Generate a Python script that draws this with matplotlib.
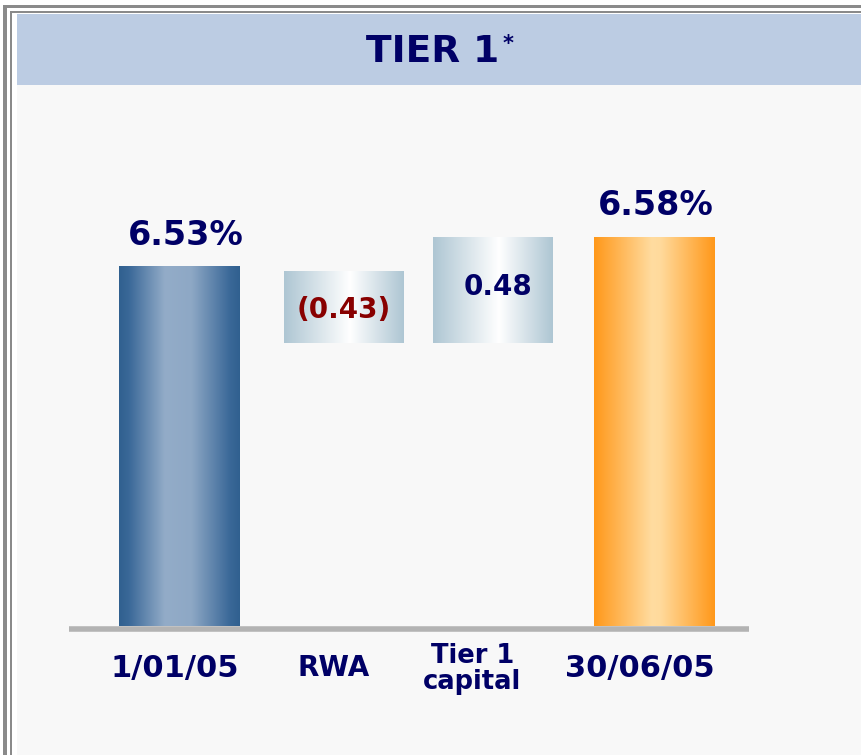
import numpy as np
import matplotlib
matplotlib.use('Agg')
import matplotlib.pyplot as plt
from matplotlib.patches import Rectangle
from matplotlib.colors import LinearSegmentedColormap

# chart values
categories = ['1/01/05', 'RWA', 'Tier 1\ncapital', '30/06/05']
value_labels = ['6.53%', '(0.43)', '0.48', '6.58%']
# bar levels as drawn in the picture (the original is not to scale)
bar_bottom = [0.0, 5.15, 5.15, 0.0]
bar_top = [6.53, 6.45, 7.07, 7.07]

W, H = 861, 755
fig = plt.figure(figsize=(W / 100, H / 100), dpi=100)
fig.patch.set_facecolor('white')

def px(x, y, w, h):
    # pixel box (top-left origin) -> figure fraction
    return [x / W, 1 - (y + h) / H, w / W, h / H]

def frect(x, y, w, h, color):
    b = px(x, y, w, h)
    fig.add_artist(Rectangle((b[0], b[1]), b[2], b[3], transform=fig.transFigure,
                             facecolor=color, edgecolor='none', zorder=0))

# frame: double grey line, panel, title band
frect(3, 5, W, 3, '#8a8a8a')
frect(3, 5, 4, H, '#8a8a8a')
frect(10, 11, W, 2, '#8a8a8a')
frect(10, 11, 2, H, '#8a8a8a')
frect(17, 14, W, H, '#f8f8f8')
frect(17, 14, W, 71, '#bccce3')

navy = '#000066'
fig.text(433 / W, 1 - 52 / H, 'TIER 1', ha='center', va='center',
         fontsize=27, fontweight='bold', color=navy)
fig.text(503 / W, 1 - 44 / H, '*', ha='left', va='center',
         fontsize=15, fontweight='bold', color=navy)

ax = fig.add_axes(px(69, 100, 680, 526))
ax.axis('off')

blue = LinearSegmentedColormap.from_list('b', [(0, '#30608f'), (0.08, '#3a6898'),
                                               (0.38, '#93acc8'), (0.6, '#8ea8c5'),
                                               (0.92, '#3a6898'), (1, '#30608f')])
grey = LinearSegmentedColormap.from_list('g', [(0, '#aec6d3'), (0.55, '#ffffff'),
                                               (1, '#aec6d3')])
orange = LinearSegmentedColormap.from_list('o', [(0, '#ff981a'), (0.48, '#ffdca0'),
                                                 (0.55, '#ffda9c'), (1, '#ff981a')])
cmaps = [blue, grey, grey, orange]
xpos = [0, 1.036, 1.98, 3.0]
widths = [0.764, 0.752, 0.755, 0.764]

grad = np.linspace(0, 1, 256).reshape(1, -1)
for i in range(len(categories)):
    x0 = xpos[i] - widths[i] / 2
    x1 = xpos[i] + widths[i] / 2
    ax.imshow(grad, extent=[x0, x1, bar_bottom[i], bar_top[i]], aspect='auto',
              cmap=cmaps[i], interpolation='bicubic', zorder=2)

ax.set_xlim(-0.698, 3.597)
ax.set_ylim(0, 9.56)

# baseline
ax.plot([-0.698, 3.597], [-0.05, -0.05], color='#b3b3b3', lw=4, solid_capstyle='butt',
        clip_on=False, zorder=3)

# value labels
ax.text(xpos[0] + 0.04, bar_top[0] + 0.27, value_labels[0], ha='center', va='bottom',
        fontsize=24, fontweight='bold', color=navy)
ax.text(xpos[3] + 0.01, bar_top[3] + 0.27, value_labels[3], ha='center', va='bottom',
        fontsize=24, fontweight='bold', color=navy)
ax.text(xpos[1], (bar_top[1] + bar_bottom[1]) / 2 - 0.05, value_labels[1], ha='center',
        va='center', fontsize=20, fontweight='bold', color='#880000')
ax.text(xpos[2] + 0.03, (bar_top[2] + bar_bottom[2]) / 2 + 0.05, value_labels[2],
        ha='center', va='center', fontsize=20, fontweight='bold', color=navy)

# category labels
offs = [-0.03, -0.065, -0.13, -0.09]
sizes = [22, 20, 18.5, 22]
ylab = [-0.5, -0.5, -0.3, -0.5]
for i, c in enumerate(categories):
    ax.text(xpos[i] + offs[i], ylab[i], c, ha='center', va='top', fontsize=sizes[i],
            fontweight='bold', color=navy, linespacing=1.0)

fig.savefig('out.png', dpi=100)
